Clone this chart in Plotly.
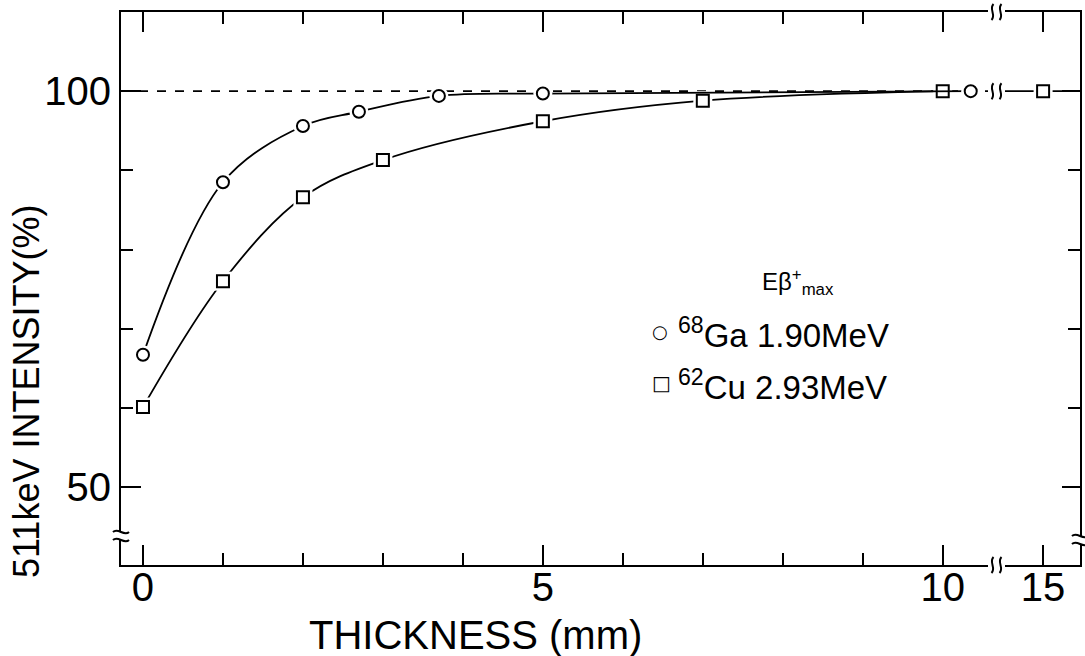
import plotly.graph_objects as go

# ---------------- data ----------------
ga_thickness = [0, 1, 2, 2.7, 3.7, 5, 10.35]
ga_intensity = [66.7, 88.5, 95.6, 97.4, 99.4, 99.7, 100.0]

cu_thickness = [0, 1, 2, 3, 5, 7, 10, 15]
cu_intensity = [60.1, 76.0, 86.6, 91.3, 96.2, 98.8, 100.0, 100.0]

x_major_left = [0, 5, 10]
x_minor_left = [1, 2, 3, 4, 6, 7, 8, 9]
x_major_right = [15]
y_major = [50, 100]
y_minor = [60, 70, 80, 90]
reference_level = 100

legend_title = "Eβ<sup>+</sup><sub>max</sub>"
ga_label = "<sup>68</sup>Ga 1.90MeV"
cu_label = "<sup>62</sup>Cu 2.93MeV"

# ---------------- layout geometry ----------------
FONT = "Liberation Sans"
W, H = 1085, 656
ML, MR, MT, MB = 121, 5, 12, 91
PW = W - ML - MR
PH = H - MT - MB
X_BREAK_LO, X_BREAK_HI = 988, 1005      # pixel gap of the x break
XR_LEFT = [-0.275, 10.566]
XR_RIGHT = [14.525, 15.46]
YR = [40.15, 110.0]
BREAK_AT = 12  # thickness beyond which a point is on the right panel


def px_x(p):
    return (p - ML) / PW


def px_y(p):
    return (H - MB - p) / PH


d1 = px_x(X_BREAK_LO)
d2 = px_x(X_BREAK_HI)

fig = go.Figure()


def add_series(xs, ys, symbol, xa, ya, size):
    fig.add_trace(go.Scatter(x=xs, y=ys, mode="lines", xaxis=xa, yaxis=ya,
                             line=dict(color="black", width=1.8, shape="spline", smoothing=1.0),
                             showlegend=False, hoverinfo="skip"))
    fig.add_trace(go.Scatter(x=xs, y=ys, mode="markers", xaxis=xa, yaxis=ya,
                             marker=dict(symbol=symbol, size=size + 7, color="white",
                                         line=dict(width=0)),
                             showlegend=False, hoverinfo="skip"))
    fig.add_trace(go.Scatter(x=xs, y=ys, mode="markers", xaxis=xa, yaxis=ya,
                             marker=dict(symbol=symbol + "-open", size=size, color="black",
                                         line=dict(width=2, color="black")),
                             showlegend=False))


ga_l = [(x, y) for x, y in zip(ga_thickness, ga_intensity) if x < BREAK_AT]
cu_l = [(x, y) for x, y in zip(cu_thickness, cu_intensity) if x < BREAK_AT]
cu_r = [(x, y) for x, y in zip(cu_thickness, cu_intensity) if x >= BREAK_AT]

add_series([p[0] for p in cu_l], [p[1] for p in cu_l], "square", "x", "y", 12)
add_series([p[0] for p in ga_l], [p[1] for p in ga_l], "circle", "x", "y", 12)
add_series([p[0] for p in cu_r], [p[1] for p in cu_r], "square", "x2", "y2", 12)

axis_common = dict(showline=True, linecolor="black", linewidth=2, ticks="inside",
                   tickcolor="black", tickwidth=2, showgrid=False, zeroline=False,
                   tickfont=dict(family=FONT, size=40, color="black"))

fig.update_layout(
    width=W, height=H,
    margin=dict(l=ML, r=MR, t=MT, b=MB),
    paper_bgcolor="white", plot_bgcolor="white",
    showlegend=False,
    xaxis=dict(domain=[0, d1], range=XR_LEFT, anchor="y", mirror="ticks",
               tickvals=x_major_left, ticklen=20, ticklabelstandoff=-14,
               minor=dict(tickvals=x_minor_left, ticklen=12, ticks="inside",
                          tickcolor="black", tickwidth=2, showgrid=False),
               **axis_common),
    xaxis2=dict(domain=[d2, 1], range=XR_RIGHT, anchor="y2", mirror="ticks",
                tickvals=x_major_right, ticklen=20, ticklabelstandoff=-14,
                **axis_common),
    yaxis=dict(domain=[0, 1], range=YR, anchor="x", side="left",
               tickvals=y_major, ticklen=20,
               minor=dict(tickvals=y_minor, ticklen=12, ticks="inside",
                          tickcolor="black", tickwidth=2, showgrid=False),
               **axis_common),
    yaxis2=dict(domain=[0, 1], range=YR, anchor="x2", side="right",
                tickvals=y_major, ticklen=18, showticklabels=False,
                minor=dict(tickvals=y_minor, ticklen=12, ticks="inside",
                           tickcolor="black", tickwidth=2, showgrid=False),
                **axis_common),
)

shapes = []
# 100 % reference line
shapes.append(dict(type="line", xref="x domain", yref="y", x0=0, x1=1,
                   y0=reference_level, y1=reference_level, layer="below",
                   line=dict(color="black", width=1.6, dash="dash")))
shapes.append(dict(type="line", xref="x2 domain", yref="y2", x0=0, x1=1,
                   y0=reference_level, y1=reference_level, layer="below",
                   line=dict(color="black", width=1.8)))


def squiggle_v(xc, yc, yref="paper"):
    # two small vertical wavy marks (x-axis break)
    for dx in (-4, 4):
        shapes.append(dict(type="path", xref="paper", yref=yref,
                           xsizemode="pixel", ysizemode="pixel",
                           xanchor=xc, yanchor=yc,
                           path=f"M {dx-1},-8 C {dx+4},-3 {dx-4},3 {dx+1},8",
                           line=dict(color="black", width=2), layer="above"))


def squiggle_h(xc, yc, gap=8):
    # white gap + two small horizontal wavy marks (y-axis break)
    shapes.append(dict(type="path", xref="paper", yref="paper",
                       xsizemode="pixel", ysizemode="pixel", xanchor=xc, yanchor=yc,
                       path=f"M -4,{-gap/2} L 4,{-gap/2} L 4,{gap/2} L -4,{gap/2} Z",
                       fillcolor="white", line=dict(width=0), layer="above"))
    for dy in (-gap / 2, gap / 2):
        shapes.append(dict(type="path", xref="paper", yref="paper",
                           xsizemode="pixel", ysizemode="pixel", xanchor=xc, yanchor=yc,
                           path=f"M -8,{dy} C -3,{dy+5} 3,{dy-5} 8,{dy}",
                           line=dict(color="black", width=2), layer="above"))


xb = px_x((X_BREAK_LO + X_BREAK_HI) / 2)
squiggle_v(xb, 0)
squiggle_v(xb, 1)
squiggle_v(xb, reference_level, yref="y")
squiggle_h(0, px_y(536))
squiggle_h(1, px_y(540))

fig.update_layout(shapes=shapes)

ann = []
ann.append(dict(text="THICKNESS (mm)", xref="paper", yref="paper",
                x=px_x(475), y=px_y(635), xanchor="center", yanchor="middle",
                showarrow=False, font=dict(family=FONT, size=40, color="black")))
ann.append(dict(text="511keV INTENSITY(%)", xref="paper", yref="paper",
                x=px_x(26), y=px_y(392), xanchor="center", yanchor="middle",
                textangle=-90, showarrow=False,
                font=dict(family=FONT, size=36, color="black")))
ann.append(dict(text=legend_title, xref="paper", yref="paper",
                x=px_x(760), y=px_y(282), xanchor="left", yanchor="middle",
                showarrow=False, font=dict(family=FONT, size=24, color="black")))
ann.append(dict(text="○", xref="paper", yref="paper",
                x=px_x(660), y=px_y(331), xanchor="center", yanchor="middle",
                showarrow=False, font=dict(family="DejaVu Sans", size=18, color="black")))
ann.append(dict(text="□", xref="paper", yref="paper",
                x=px_x(661), y=px_y(383), xanchor="center", yanchor="middle",
                showarrow=False, font=dict(family="DejaVu Sans", size=20, color="black")))
ann.append(dict(text=ga_label, xref="paper", yref="paper",
                x=px_x(676), y=px_y(333), xanchor="left", yanchor="middle",
                showarrow=False, font=dict(family=FONT, size=33, color="black")))
ann.append(dict(text=cu_label, xref="paper", yref="paper",
                x=px_x(676), y=px_y(385), xanchor="left", yanchor="middle",
                showarrow=False, font=dict(family=FONT, size=33, color="black")))
fig.update_layout(annotations=ann)

fig.write_html("out.html")
